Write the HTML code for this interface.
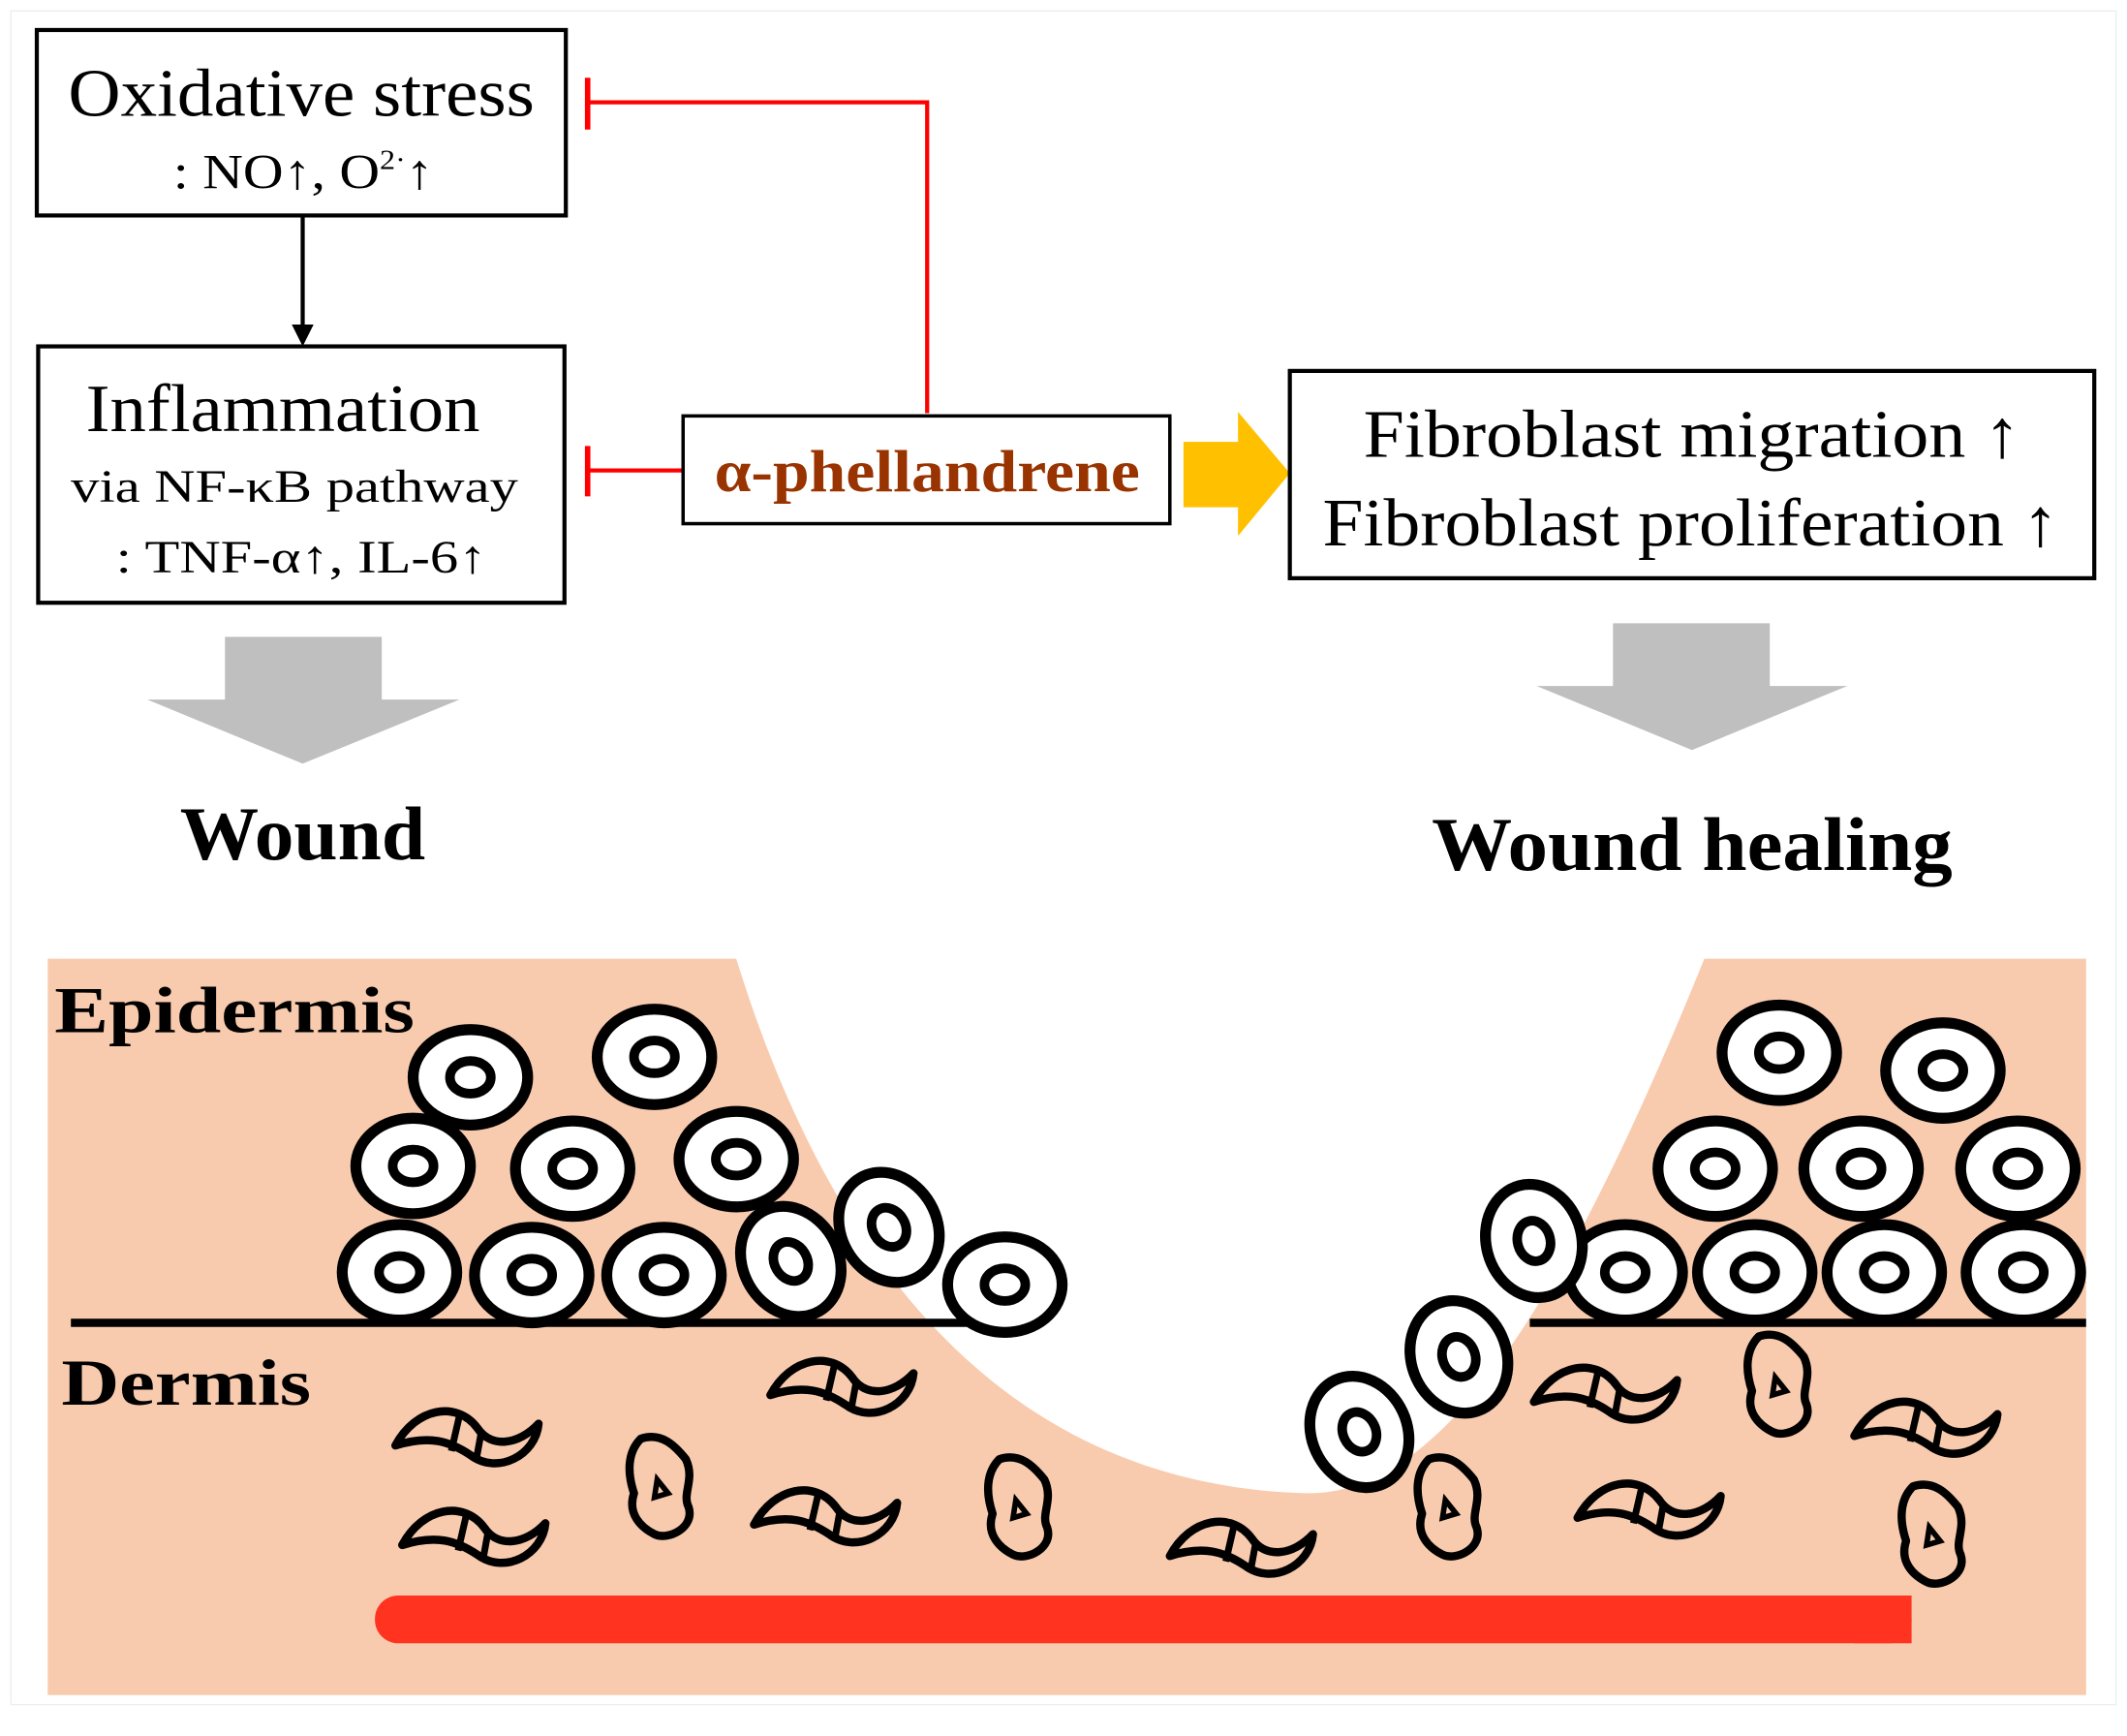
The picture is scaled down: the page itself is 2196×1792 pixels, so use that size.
<!DOCTYPE html>
<html><head><meta charset="utf-8"><style>
html,body{margin:0;padding:0;background:#fff;width:2196px;height:1792px;overflow:hidden}
svg{display:block}
text{font-family:"Liberation Serif",serif}
</style></head><body>
<svg width="2196" height="1792" viewBox="0 0 1560 1273" preserveAspectRatio="none" xmlns="http://www.w3.org/2000/svg">
<defs>
<g id="cell"><ellipse cx="0" cy="0" rx="42" ry="35" fill="#fff" stroke="#000" stroke-width="8"/><ellipse cx="0" cy="0" rx="15" ry="12" fill="#fff" stroke="#000" stroke-width="7"/></g>
<g id="fib"><path d="M-55,8 C-40,-20 -10,-25 5,-5 C15,10 35,8 50,-8 C48,15 20,30 0,15 C-15,5 -30,0 -55,8 Z" fill="none" stroke="#000" stroke-width="6" stroke-linejoin="round"/><path d="M-8,-14 L-14,12 M8,-2 L4,20" stroke="#000" stroke-width="5"/></g>
<g id="star"><path d="M-15,-35 C0,-40 10,-30 18,-20 C25,-5 15,5 20,15 C25,30 5,40 -5,35 C-15,30 -25,20 -20,5 C-25,-10 -25,-25 -15,-35 Z" fill="none" stroke="#000" stroke-width="6" stroke-linejoin="round"/><path d="M-3,-5 L5,5 L-5,8 Z" fill="none" stroke="#000" stroke-width="4"/></g>
</defs>
<rect x="8" y="8" width="1544" height="1242" fill="none" stroke="#eee" stroke-width="1"/>
<rect x="27" y="22" width="388" height="136" fill="#fff" stroke="#000" stroke-width="3"/>
<text x="50" y="85" font-size="50" textLength="342" lengthAdjust="spacingAndGlyphs">Oxidative stress</text>
<text x="127" y="138" font-size="36" textLength="191" lengthAdjust="spacingAndGlyphs">: NO↑, O<tspan font-size="20" dy="-14">2·</tspan><tspan dy="14">↑</tspan></text>
<line x1="222" y1="158" x2="222" y2="240" stroke="#000" stroke-width="3"/>
<polygon points="214,238 230,238 222,254" fill="#000"/>
<rect x="28" y="254" width="386" height="188" fill="#fff" stroke="#000" stroke-width="3"/>
<text x="63" y="316" font-size="50" textLength="289" lengthAdjust="spacingAndGlyphs">Inflammation</text>
<text x="52" y="368" font-size="34" textLength="328" lengthAdjust="spacingAndGlyphs">via NF-κB pathway</text>
<text x="85" y="420" font-size="34" textLength="272" lengthAdjust="spacingAndGlyphs">: TNF-α↑, IL-6↑</text>
<polyline points="680,303 680,75 431,75" fill="none" stroke="#f00" stroke-width="3"/>
<line x1="431" y1="57" x2="431" y2="95" stroke="#f00" stroke-width="4"/>
<line x1="501" y1="345" x2="431" y2="345" stroke="#f00" stroke-width="3"/>
<line x1="431" y1="327" x2="431" y2="364" stroke="#f00" stroke-width="4"/>
<rect x="501" y="305" width="357" height="79" fill="#fff" stroke="#000" stroke-width="2.5"/>
<text x="524" y="360" font-size="44" font-weight="bold" fill="#993300" textLength="312" lengthAdjust="spacingAndGlyphs">α-phellandrene</text>
<polygon points="868,324 908,324 908,302 946,347 908,393 908,372 868,372" fill="#FFC000"/>
<rect x="946" y="272" width="590" height="152" fill="#fff" stroke="#000" stroke-width="3"/>
<text x="1000" y="335" font-size="50" textLength="482" lengthAdjust="spacingAndGlyphs">Fibroblast migration ↑</text>
<text x="970" y="400" font-size="50" textLength="540" lengthAdjust="spacingAndGlyphs">Fibroblast proliferation ↑</text>
<polygon points="165,467 280,467 280,513 337,513 222,560 108,513 165,513" fill="#BFBFBF"/>
<polygon points="1183,457 1298,457 1298,503 1355,503 1241,550 1127,503 1183,503" fill="#BFBFBF"/>
<text x="132" y="630" font-size="56" font-weight="bold" textLength="180" lengthAdjust="spacingAndGlyphs">Wound</text>
<text x="1050" y="638" font-size="56" font-weight="bold" textLength="382" lengthAdjust="spacingAndGlyphs">Wound healing</text>
<path d="M35,703 L540,703 C610,930 740,1090 960,1095 C1060,1095 1150,950 1250,703 L1530,703 L1530,1243 L35,1243 Z" fill="#F9CBAE"/>
<rect x="275" y="1170" width="1127" height="35" rx="17" fill="#FF3320"/>
<rect x="1360" y="1170" width="42" height="35" fill="#FF3320"/>
<line x1="52" y1="970" x2="740" y2="970" stroke="#000" stroke-width="6"/>
<line x1="1122" y1="970" x2="1530" y2="970" stroke="#000" stroke-width="6"/>
<text x="40" y="757" font-size="48" font-weight="bold" textLength="264" lengthAdjust="spacingAndGlyphs">Epidermis</text>
<text x="45" y="1030" font-size="48" font-weight="bold" textLength="183" lengthAdjust="spacingAndGlyphs">Dermis</text>
<use href="#cell" transform="translate(345,790)"/>
<use href="#cell" transform="translate(480,775)"/>
<use href="#cell" transform="translate(303,855)"/>
<use href="#cell" transform="translate(420,857)"/>
<use href="#cell" transform="translate(540,850)"/>
<use href="#cell" transform="translate(293,933)"/>
<use href="#cell" transform="translate(390,935)"/>
<use href="#cell" transform="translate(487,935)"/>
<use href="#cell" transform="translate(580,925) rotate(60)"/>
<use href="#cell" transform="translate(652,900) rotate(60)"/>
<use href="#cell" transform="translate(737,942)"/>
<use href="#cell" transform="translate(1305,772)"/>
<use href="#cell" transform="translate(1425,785)"/>
<use href="#cell" transform="translate(1258,857)"/>
<use href="#cell" transform="translate(1365,857)"/>
<use href="#cell" transform="translate(1480,857)"/>
<use href="#cell" transform="translate(1192,933)"/>
<use href="#cell" transform="translate(1287,933)"/>
<use href="#cell" transform="translate(1382,933)"/>
<use href="#cell" transform="translate(1484,933)"/>
<use href="#cell" transform="translate(1125,910) rotate(75)"/>
<use href="#cell" transform="translate(1070,995) rotate(70)"/>
<use href="#cell" transform="translate(997,1050) rotate(65)"/>
<use href="#fib" transform="translate(345,1052)"/>
<use href="#fib" transform="translate(620,1015)"/>
<use href="#fib" transform="translate(350,1125)"/>
<use href="#fib" transform="translate(608,1110)"/>
<use href="#fib" transform="translate(913,1133)"/>
<use href="#fib" transform="translate(1180,1020)"/>
<use href="#fib" transform="translate(1415,1045)"/>
<use href="#fib" transform="translate(1212,1105)"/>
<use href="#star" transform="translate(485,1090)"/>
<use href="#star" transform="translate(748,1105)"/>
<use href="#star" transform="translate(1063,1105)"/>
<use href="#star" transform="translate(1305,1015)"/>
<use href="#star" transform="translate(1418,1125)"/>
</svg>
</body></html>
